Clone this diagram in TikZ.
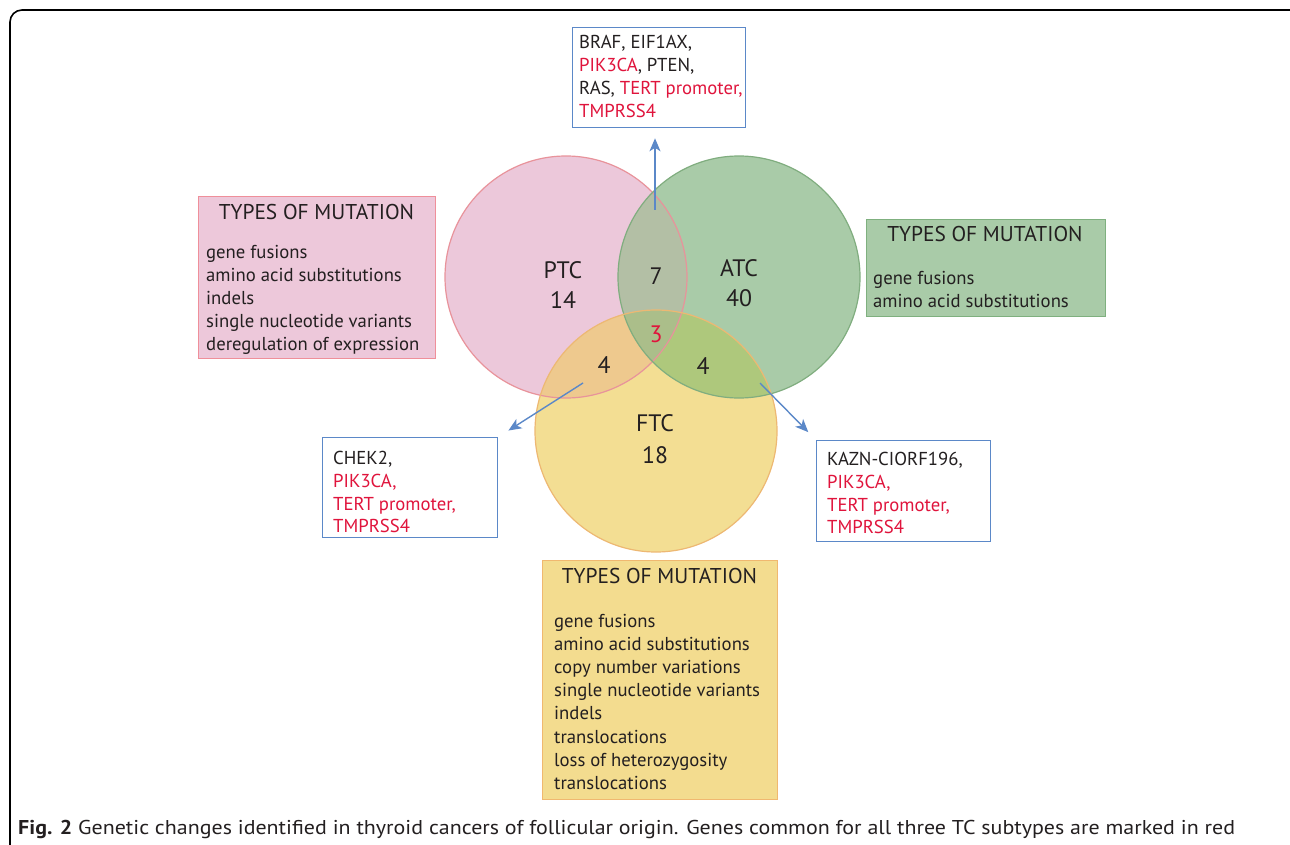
\documentclass[tikz,border=0pt]{standalone}
\usepackage{fontspec}
\setmainfont{PT Sans}
\usetikzlibrary{arrows.meta}
\definecolor{txt}{HTML}{231F20}
\definecolor{gred}{HTML}{E0143C}
\definecolor{ptcfill}{HTML}{ECC8DA}
\definecolor{atcfill}{HTML}{A9CBA8}
\definecolor{ftcfill}{HTML}{F3DE93}
\definecolor{pafill}{HTML}{B3BFA5}
\definecolor{pffill}{HTML}{EEC98E}
\definecolor{affill}{HTML}{AEC87C}
\definecolor{pafall}{HTML}{ABBE8A}
\definecolor{ptcline}{HTML}{E8939B}
\definecolor{atcline}{HTML}{80AD7F}
\definecolor{ftcline}{HTML}{EDB873}
\definecolor{bluel}{HTML}{5B88C8}
\definecolor{pinkbox}{HTML}{EDC8DA}
\definecolor{pinkboxl}{HTML}{EF8F9A}
\definecolor{greenbox}{HTML}{A9CBA8}
\definecolor{greenboxl}{HTML}{7FB07F}
\definecolor{yellowbox}{HTML}{F3DC8F}
\definecolor{yellowboxl}{HTML}{F0B870}
\tikzset{
  box/.style={rectangle, anchor=north west, inner sep=0pt, line width=1.3pt},
  bluebox/.style={box, draw=bluel, fill=white},
  line/.style={anchor=base west, inner sep=0pt, text=txt, font=\fontsize{18.7}{21}\selectfont},
  title/.style={anchor=base, inner sep=0pt, text=txt, font=\fontsize{21.4}{24}\selectfont},
  lbl/.style={anchor=center, inner sep=0pt, text=txt, font=\fontsize{23.8}{26}\selectfont},
  conn/.style={draw=bluel, line width=1.4pt, -{Stealth[length=13pt,width=11pt,inset=3.5pt]}},
}
\newcommand{\rd}[1]{\textcolor{gred}{#1}}
\begin{document}
\begin{tikzpicture}[x=1pt,y=-1pt]
\useasboundingbox (0,0) rectangle (1290,845);
\clip (0,0) rectangle (1290,845);
% frame
\draw[line width=1.6pt, rounded corners=12pt] (10,860) -- (10,10) -- (1302,10) -- (1302,860);
% circles
\coordinate (cp) at (566,277);
\coordinate (ca) at (739,277);
\coordinate (cf) at (656,431);
\fill[ptcfill] (cp) circle[radius=121pt];
\fill[atcfill] (ca) circle[radius=121pt];
\fill[ftcfill] (cf) circle[radius=121pt];
\begin{scope}
  \clip (cp) circle[radius=121pt];
  \fill[pafill] (ca) circle[radius=121pt];
  \fill[pffill] (cf) circle[radius=121pt];
  \clip (ca) circle[radius=121pt];
  \fill[pafall] (cf) circle[radius=121pt];
\end{scope}
\begin{scope}
  \clip (ca) circle[radius=121pt];
  \clip (cf) circle[radius=121pt];
  \fill[affill, even odd rule] (cf) circle[radius=121pt] (cp) circle[radius=121pt];
\end{scope}
\draw[ptcline, line width=1.2pt] (cp) circle[radius=121pt];
\draw[atcline, line width=1.2pt] (ca) circle[radius=121pt];
\draw[ftcline, line width=1.2pt] (cf) circle[radius=121pt];
% circle labels
\node[lbl] (ptc) at (563,270) {PTC};
\node[lbl] (n14) at (563,300) {14};
\node[lbl] (atc) at (739,268) {ATC};
\node[lbl] (n40) at (739,298) {40};
\node[lbl] (n7) at (656,276) {7};
\node[lbl, text=gred] (n3) at (656,334) {3};
\node[lbl] (n4a) at (604,365) {4};
\node[lbl] (n4b) at (703,366) {4};
\node[lbl] (ftc) at (655,423) {FTC};
\node[lbl] (n18) at (655,455) {18};
% type boxes
\node[box, draw=pinkboxl, fill=pinkbox, minimum width=237pt, minimum height=162pt] (ptcbox) at (198,196) {};
\node[title] (ptct) at (316.5,219) {TYPES OF MUTATION};
\foreach \t [count=\i] in {gene fusions, amino acid substitutions, indels, single nucleotide variants, deregulation of expression}
  \node[line] (ptcl\i) at (206,{258+23.2*(\i-1)}) {\t};
\node[box, draw=greenboxl, fill=greenbox, minimum width=239pt, minimum height=97pt] (atcbox) at (866,219) {};
\node[title] (atct) at (985,241) {TYPES OF MUTATION};
\foreach \t [count=\i] in {gene fusions, amino acid substitutions}
  \node[line] (atcl\i) at (873,{284+23.2*(\i-1)}) {\t};
\node[box, draw=yellowboxl, fill=yellowbox, minimum width=235pt, minimum height=239pt] (ftcbox) at (542,560) {};
\node[title] (ftct) at (659.5,583) {TYPES OF MUTATION};
\foreach \t [count=\i] in {gene fusions, amino acid substitutions, copy number variations, single nucleotide variants, indels, translocations, loss of heterozygosity, translocations}
  \node[line] (ftcl\i) at (554,{627+23.2*(\i-1)}) {\t};
% gene boxes
\node[bluebox, minimum width=173pt, minimum height=100pt] (topbox) at (572,27) {};
\node[line] (tl1) at (579,49) {BRAF, EIF1AX,};
\node[line] (tl2) at (579,72) {\rd{PIK3CA}, PTEN,};
\node[line] (tl3) at (579,95) {RAS, \rd{TERT promoter,}};
\node[line] (tl4) at (579,118) {\rd{TMPRSS4}};
\node[bluebox, minimum width=175pt, minimum height=100pt] (leftbox) at (322,437) {};
\node[line] (ll1) at (333,464) {CHEK2,};
\node[line] (ll2) at (333,487) {\rd{PIK3CA,}};
\node[line] (ll3) at (333,510) {\rd{TERT promoter,}};
\node[line] (ll4) at (333,532) {\rd{TMPRSS4}};
\node[bluebox, minimum width=174pt, minimum height=101pt] (rightbox) at (816,440) {};
\node[line] (rl1) at (827,465) {KAZN-CIORF196,};
\node[line] (rl2) at (827,488) {\rd{PIK3CA,}};
\node[line] (rl3) at (827,511) {\rd{TERT promoter,}};
\node[line] (rl4) at (827,533) {\rd{TMPRSS4}};
% connectors
\coordinate (s7) at (655,210);
\coordinate (s4a) at (583,383);
\coordinate (s4b) at (760,383);
\draw[conn, shorten >=10pt] (s7) -- (topbox.south -| s7);
\draw[conn, shorten >=12pt] (s4a) -- (leftbox.north east);
\draw[conn, shorten >=11pt] (s4b) -- (rightbox.north west);
% caption
\node[anchor=base west, inner sep=0pt, text=txt, font=\fontsize{20}{22}\selectfont] (cap) at (18,834) {\scalebox{1.098}[1]{\textbf{Fig. 2} Genetic changes identified in thyroid cancers of follicular origin. Genes common for all three TC subtypes are marked in red}};
\end{tikzpicture}
\end{document}
